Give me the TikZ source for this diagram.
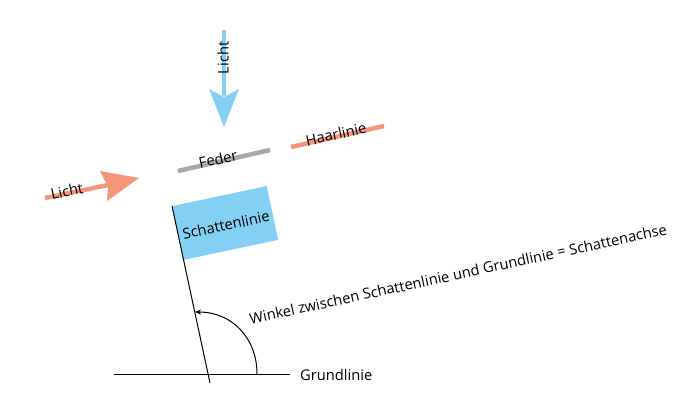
\documentclass[tikz,border=0pt]{standalone}
\usepackage{fontspec}
\setmainfont{Open Sans}
\usetikzlibrary{arrows.meta}
\definecolor{lightblue}{HTML}{84D0F5}
\definecolor{salmon}{HTML}{F4967A}
\definecolor{featgray}{HTML}{A8A8A8}
\begin{document}
\begin{tikzpicture}[x=1pt,y=-1pt,
  lbl/.style={font=\fontsize{14.7}{17}\selectfont, inner sep=0pt},
  thin line/.style={line width=1pt, black},
  thick line/.style={line width=4.5pt}]
\useasboundingbox (0,0) rectangle (700,417);
% vertical light arrow
\coordinate (bA) at (224,30);
\coordinate (bB) at (224,96);
\draw[thick line, lightblue] (bA) -- (bB);
\fill[lightblue] (209,89) -- (224,127) -- (239,89) -- (224,97) -- cycle;
\node[lbl, rotate=90] (licht1) at (223,58) {Licht};
% left light arrow
\coordinate (sA) at (45,198);
\coordinate (sB) at (108,185);
\draw[thick line, salmon] (sA) -- (sB);
\fill[salmon] (100,171) -- (139,178) -- (107,201) -- (108,187) -- cycle;
\node[lbl, rotate=12] (licht2) at (67,191) {Licht};
% Feder
\coordinate (fA) at (178,171);
\coordinate (fB) at (270,150);
\draw[thick line, featgray] (fA) -- (fB);
\node[lbl, rotate=12.5] (feder) at (218,159) {Feder};
% Haarlinie
\coordinate (hA) at (291,147);
\coordinate (hB) at (384,126);
\draw[thick line, salmon] (hA) -- (hB);
\node[lbl, rotate=12.5] (haar) at (336,134) {Haarlinie};
% shadow flag
\node[fill=lightblue, rotate=12, minimum width=97pt, minimum height=55pt, inner sep=0pt] (flag) at (225,223) {};
\node[lbl, rotate=12] (schatten) at (226,225) {Schattenlinie};
% Schattenlinie line
\coordinate (sl1) at (172,206);
\coordinate (sl2) at (210,383);
\draw[thin line] (sl1) -- (sl2);
% Grundlinie
\coordinate (g1) at (114,374);
\coordinate (g2) at (290,374);
\draw[thin line] (g1) -- (g2);
\node[lbl, anchor=west] (grund) at (300,375) {Grundlinie};
% angle arc
\coordinate (a1) at (257,374);
\coordinate (a2) at (195,312);
\draw[thin line, ->, >={Stealth[length=6pt,width=5pt]}] (a1) .. controls (257,338) and (232,312) .. (a2);
% long label
\node[lbl, rotate=12.2] (winkel) at (458,274) {Winkel zwischen Schattenlinie und Grundlinie = Schattenachse};
\end{tikzpicture}
\end{document}
